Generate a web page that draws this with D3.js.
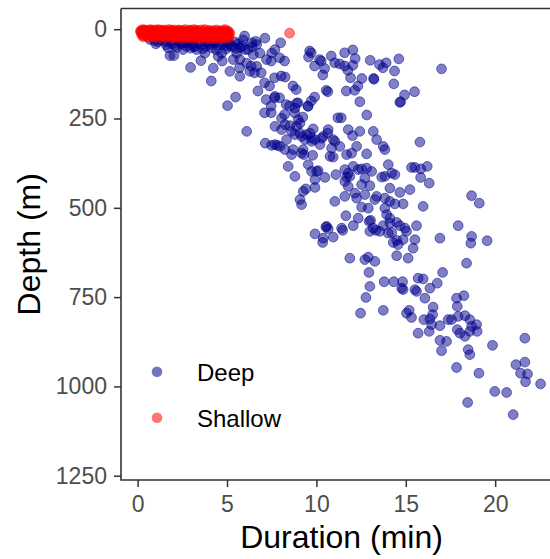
<!DOCTYPE html>
<html>
<head>
<meta charset="utf-8">
<script src="https://cdn.jsdelivr.net/npm/d3@7"></script>
<style>
  body { margin: 0; background: #fff; }
  svg { display: block; font-family: Arial, "Liberation Sans", sans-serif; }
</style>
</head>
<body>
<div class="chart"></div>
<script>
// legend groups and colours
const groups = ["Deep", "Shallow"];
const colors = ["#00008B", "#FF0000"];

const xTicks = [0, 5, 10, 15, 20];
const yTicks = [0, 250, 500, 750, 1000, 1250];

// [duration (min), depth (m)]
const deep = [
  [1.02,41],[1.43,20],[1.81,74],[2.03,74],[2.96,107],[3.54,88],[4.23,109],[4.12,145],[5.03,214],[5.48,190],
  [2.37,39],[2.74,48],[3.11,48],[3.30,57],[3.76,67],[4.70,67],[4.51,76],[5.54,67],[5.35,85],[5.72,85],
  [6.0,57],[6.10,95],[6.66,104],[6.28,118],[5.16,118],[5.72,132],[7.12,25],[6.66,43],[6.47,71],[6.84,67],
  [7.50,67],[7.21,85],[6.39,38],[5.98,19],[5.70,108],[6.35,103],[6.54,122],[6.91,122],[7.10,150],[7.38,159],
  [6.73,173],[7.19,197],[7.66,192],[7.47,215],[7.10,234],[7.47,234],[7.66,136],[7.47,89],[6.10,286],[7.14,319],
  [7.49,325],[7.81,325],[4.73,89],
  [0.69,29],[1.14,35],[1.58,35],[1.92,41],[2.25,32],[2.65,38],[2.93,32],[3.37,38],[3.76,35],[4.04,43],
  [4.32,38],[4.71,43],[5.05,35],[5.27,49],[5.61,41],[2.09,46],[3.21,49],[4.16,52],[4.95,55],[5.72,52],
  [6.17,57],[1.70,52],[2.54,57],[1.30,30],[1.85,33],[2.45,42],[2.80,36],[3.05,41],[3.55,44],[3.95,39],
  [4.45,45],[4.85,40],[5.20,44],[5.45,36],[5.85,47],[2.20,51],[2.95,53],[3.65,55],[4.40,58],[5.00,47],
  [0.95,32],[1.60,44],[3.80,48],[4.25,34],[5.50,54],[6.40,49],[5.90,30],[6.60,34],
  [8.0,38],[7.94,80],[8.22,89],[8.03,131],[8.25,134],[7.94,192],[8.69,159],[8.87,169],[8.31,211],[8.50,215],
  [8.97,206],[9.62,61],[9.71,66],[9.56,78],[10.18,85],[10.27,89],[9.90,103],[10.46,110],[10.36,128],[10.83,75],
  [11.02,94],[11.30,97],[11.58,66],[12.04,58],[12.17,82],[11.58,103],[11.76,115],[12.04,101],[11.91,136],[12.54,138],
  [12.32,159],[11.67,173],[12.14,171],[10.55,171],[10.64,175],[9.90,190],[9.71,201],[9.52,215],[12.43,203],[13.20,138],
  [13.22,140],[13.01,87],[13.53,99],[13.72,108],[13.90,94],[14.61,83],[14.37,117],[14.33,153],[14.93,184],[14.71,203],
  [15.49,175],[12.82,240],[11.39,248],[11.2,248],[8.22,239],[8.78,234],[9.24,246],[17.0,111],[7.68,57],[7.68,188],
  [8.05,249],[8.24,267],[8.52,270],[8.89,272],[8.98,253],[8.80,221],[9.54,216],[7.68,272],[8.05,281],[8.61,286],
  [8.80,295],[9.17,300],[9.73,305],[9.36,309],[9.92,309],[10.29,305],[7.68,323],[7.96,328],[8.70,337],[8.61,351],
  [9.17,347],[9.26,337],[8.42,384],[8.80,412],[11.78,281],[12.43,286],[13.18,286],[13.37,309],[13.74,328],[13.83,337],
  [10.66,281],[10.94,309],[11.31,328],[10.76,356],[11.69,351],[11.97,347],[11.59,393],[11.78,403],[12.34,393],[12.81,389],
  [13.09,398],[12.71,417],[9.73,398],[10.01,398],[8.89,207],[9.08,263],[9.08,291],[9.45,295],[9.64,291],[9.82,279],
  [9.73,314],[8.33,309],[8.24,337],[9.30,351],[9.79,353],[10.63,291],[11.03,314],[10.85,333],[10.94,358],[10.38,300],
  [10.20,323],[10.10,396],[10.48,415],[11.09,407],[11.69,414],[11.59,426],[11.78,440],[9.41,447],[9.92,443],[9.26,454],
  [9.08,477],[9.17,491],[11.03,482],[11.59,468],[11.65,522],[10.57,552],[11.41,557],[12.25,328],[9.54,379],[9.92,421],
  [14.67,205],[12.02,298],[12.81,349],[15.79,316],[14.02,379],[15.32,387],[15.51,387],[16.20,384],[15.84,391],[15.83,415],
  [16.31,431],[15.23,449],[12.06,384],[12.53,391],[11.87,412],[13.65,414],[13.83,412],[14.21,403],[14.39,407],[12.53,435],
  [12.99,438],[12.15,459],[12.25,473],[12.71,463],[13.27,477],[13.37,468],[13.83,473],[14.11,445],[14.67,457],[14.11,482],
  [14.85,489],[15.97,496],[12.53,498],[12.90,501],[13.83,501],[12.34,529],[13.03,535],[13.93,519],[14.11,529],[14.49,541],
  [14.67,550],[15.60,550],[14.95,557],[17.93,550],[18.68,466],[19.11,487],[12.06,550],[13.18,557],[13.74,550],[14.39,489],
  [9.92,573],[10.38,585],[10.53,554],[10.66,559],[10.94,582],[11.47,563],[10.35,597],[12.95,538],[12.99,566],[13.33,563],
  [14.11,543],[14.21,569],[14.30,597],[14.49,591],[14.85,589],[14.57,603],[15.41,613],[15.51,589],[14.49,634],[15.13,641],
  [11.87,641],[12.71,645],[12.90,638],[13.27,650],[12.94,681],[13.79,707],[14.33,707],[14.82,707],[14.77,725],[14.85,729],
  [15.51,729],[15.60,734],[12.99,720],[12.77,751],[12.47,795],[13.74,787],[15.04,795],[15.19,787],[15.32,807],[15.69,851],
  [16.07,753],[16.35,725],[16.76,711],[17.06,681],[16.91,585],[13.55,566],[15.04,566],[16.53,778],[16.50,799],[16.35,811],
  [16.01,813],[16.44,827],[16.31,846],[16.91,830],[17.37,813],[15.69,697],[15.97,699],[18.68,580],[18.64,599],[19.55,592],
  [18.40,655],[14.02,571],
  [16.91,871],[17.28,874],[17.0,900],[17.84,753],[18.25,746],[17.88,776],[17.56,813],[17.93,804],[18.31,802],[17.88,841],
  [18.03,851],[18.31,860],[18.58,813],[18.68,832],[18.96,827],[18.99,846],[18.58,846],[18.49,897],[18.58,911],[17.84,947],
  [19.09,963],[19.85,885],[21.66,865],[21.16,939],[21.66,932],[21.42,963],[21.81,965],[21.70,987],[22.54,993],[19.98,1014],
  [20.64,1017],[18.46,1045],[21.01,1079]
];

const shallow = [
  [0.2,3],[0.2,8],[0.25,12],[0.3,5],[0.35,10],[0.4,2],[0.45,14],[0.5,7],[0.55,11],[0.6,4],
  [0.65,9],[0.7,13],[0.75,6],[0.8,3],[0.85,10],[0.9,15],[0.95,8],[1.0,5],[1.05,12],[1.1,3],
  [1.15,9],[1.2,14],[1.3,6],[1.35,11],[1.4,4],[1.45,16],[1.5,8],[1.6,12],[1.65,5],[1.7,10],
  [1.8,14],[1.85,3],[1.9,8],[2.0,11],[2.05,6],[2.1,15],[2.2,9],[2.25,4],[2.3,13],[2.4,7],
  [2.5,11],[2.55,16],[2.6,5],[2.7,9],[2.8,13],[2.85,4],[2.9,17],[3.0,8],[3.1,11],[3.2,6],
  [3.25,15],[3.3,10],[3.4,4],[3.5,13],[3.55,8],[3.6,17],[3.7,6],[3.8,11],[3.9,14],[3.95,5],
  [4.0,9],[4.1,16],[4.2,7],[4.3,12],[4.4,18],[4.5,9],[4.55,14],[4.6,5],[4.7,11],[4.8,16],
  [4.9,8],[5.0,13],[5.05,10],[8.5,11],
  [0.15,6],[0.22,15],[0.28,1],[0.33,18],[0.42,7],[0.48,17],[0.52,3],[0.58,13],[0.62,19],[0.68,6],
  [0.72,1],[0.78,16],[0.82,11],[0.88,5],[0.92,19],[0.98,2],[1.02,9],[1.08,17],[1.12,13],[1.18,1],
  [1.22,7],[1.28,18],[1.33,3],[1.38,14],[1.42,9],[1.48,20],[1.52,2],[1.56,13],[1.62,17],[1.68,7],
  [1.72,15],[1.76,1],[1.82,19],[1.88,11],[1.92,4],[1.96,16],[2.02,2],[2.08,19],[2.12,8],[2.16,13],
  [2.22,18],[2.28,2],[2.32,9],[2.36,16],[2.42,20],[2.46,3],[2.52,7],[2.58,13],[2.62,19],[2.66,1],
  [2.72,15],[2.76,11],[2.82,20],[2.88,7],[2.92,2],[2.96,14],[3.02,19],[3.06,4],[3.12,16],[3.16,1],
  [3.22,10],[3.28,20],[3.32,3],[3.36,17],[3.42,9],[3.46,13],[3.52,21],[3.58,2],[3.62,11],[3.66,19],
  [3.72,14],[3.76,1],[3.82,17],[3.86,8],[3.92,20],[3.98,12],[4.02,3],[4.06,19],[4.12,10],[4.16,14],
  [4.22,21],[4.26,4],[4.32,17],[4.36,8],[4.42,2],[4.46,13],[4.52,20],[4.58,6],[4.62,17],[4.66,10],
  [4.72,21],[4.76,4],[4.82,12],[4.86,19],[4.92,6],[4.96,16],[5.02,4],[5.08,18],[5.12,8],[5.16,13],
  [5.0,20],[4.88,1],[4.55,23],[4.25,22],[3.95,22],[3.70,22],[3.40,21],[3.15,21],[2.85,21],[2.55,20],
  [0.3,21],[0.6,23],[0.9,22],[1.25,24],[1.55,23],[1.9,25],[2.2,24],[2.5,26],[2.75,25],[3.05,26],
  [3.3,25],[3.55,27],[3.85,26],[4.1,27],[4.35,26],[4.65,27],[4.9,25],[5.1,24],[1.0,20],[2.0,22]
];

const width = 550, height = 559;
const panel = {left: 121, top: 8.5, right: 564, bottom: 480};

const svg = d3.select(".chart")
  .append("svg")
  .attr("width", width)
  .attr("height", height);

const xScale = d3.scaleLinear()
  .domain([-0.93, 23.85])
  .range([panel.left, panel.right]);
const yScale = d3.scaleLinear()
  .domain([-58, 1262])
  .range([panel.top, panel.bottom]);

// points
[deep, shallow].forEach((data, i) => {
  svg.append("g")
    .attr("fill", colors[i])
    .attr("fill-opacity", 0.5)
    .attr("stroke", colors[i])
    .attr("stroke-opacity", 0.5)
    .attr("stroke-width", 1)
  .selectAll("circle")
  .data(data)
  .join("circle")
    .attr("cx", d => xScale(d[0]))
    .attr("cy", d => yScale(d[1]))
    .attr("r", 4.9);
});

// panel border (left, top, bottom; right side falls outside the window)
svg.append("line")
  .attr("x1", panel.left).attr("x2", width)
  .attr("y1", panel.top).attr("y2", panel.top)
  .attr("stroke", "#333")
  .attr("stroke-width", 1.6);
svg.append("path")
  .attr("d", `M${panel.left},${panel.top}V${panel.bottom}H${width}`)
  .attr("fill", "none")
  .attr("stroke", "#333")
  .attr("stroke-width", 1.6);

const styleAxis = g => g
  .attr("font-size", null)
  .attr("font-family", null)
  .call(g => g.select(".domain").remove())
  .call(g => g.selectAll(".tick line").attr("stroke", "#333").attr("stroke-width", 1.5))
  .call(g => g.selectAll(".tick text").attr("fill", "#4D4D4D").attr("font-size", 23));

svg.append("g")
  .attr("transform", `translate(${panel.left},0)`)
  .call(d3.axisLeft(yScale).tickValues(yTicks).tickFormat(d3.format("d")).tickSize(7).tickPadding(7))
  .call(styleAxis);

svg.append("g")
  .attr("transform", `translate(0,${panel.bottom})`)
  .call(d3.axisBottom(xScale).tickValues(xTicks).tickFormat(d3.format("d")).tickSize(7).tickPadding(9))
  .call(styleAxis);

// axis titles
svg.append("text")
  .attr("x", (panel.left + panel.right) / 2 - 1)
  .attr("y", 548)
  .attr("text-anchor", "middle")
  .attr("font-size", 32)
  .attr("fill", "black")
  .text("Duration (min)");

svg.append("text")
  .attr("transform", `translate(40,${(panel.top + panel.bottom) / 2}) rotate(-90)`)
  .attr("text-anchor", "middle")
  .attr("font-size", 32)
  .attr("fill", "black")
  .text("Depth (m)");

// legend
const legend = svg.append("g")
  .selectAll("g")
  .data(groups)
  .join("g")
    .attr("transform", (d, i) => `translate(157,${371.7 + i * 46})`);
legend.append("circle")
  .attr("r", 5.3)
  .attr("fill", (d, i) => colors[i])
  .attr("fill-opacity", 0.55);
legend.append("text")
  .attr("x", 40)
  .attr("dy", "0.38em")
  .attr("font-size", 24)
  .attr("fill", "black")
  .text(d => d);
</script>
</body>
</html>
